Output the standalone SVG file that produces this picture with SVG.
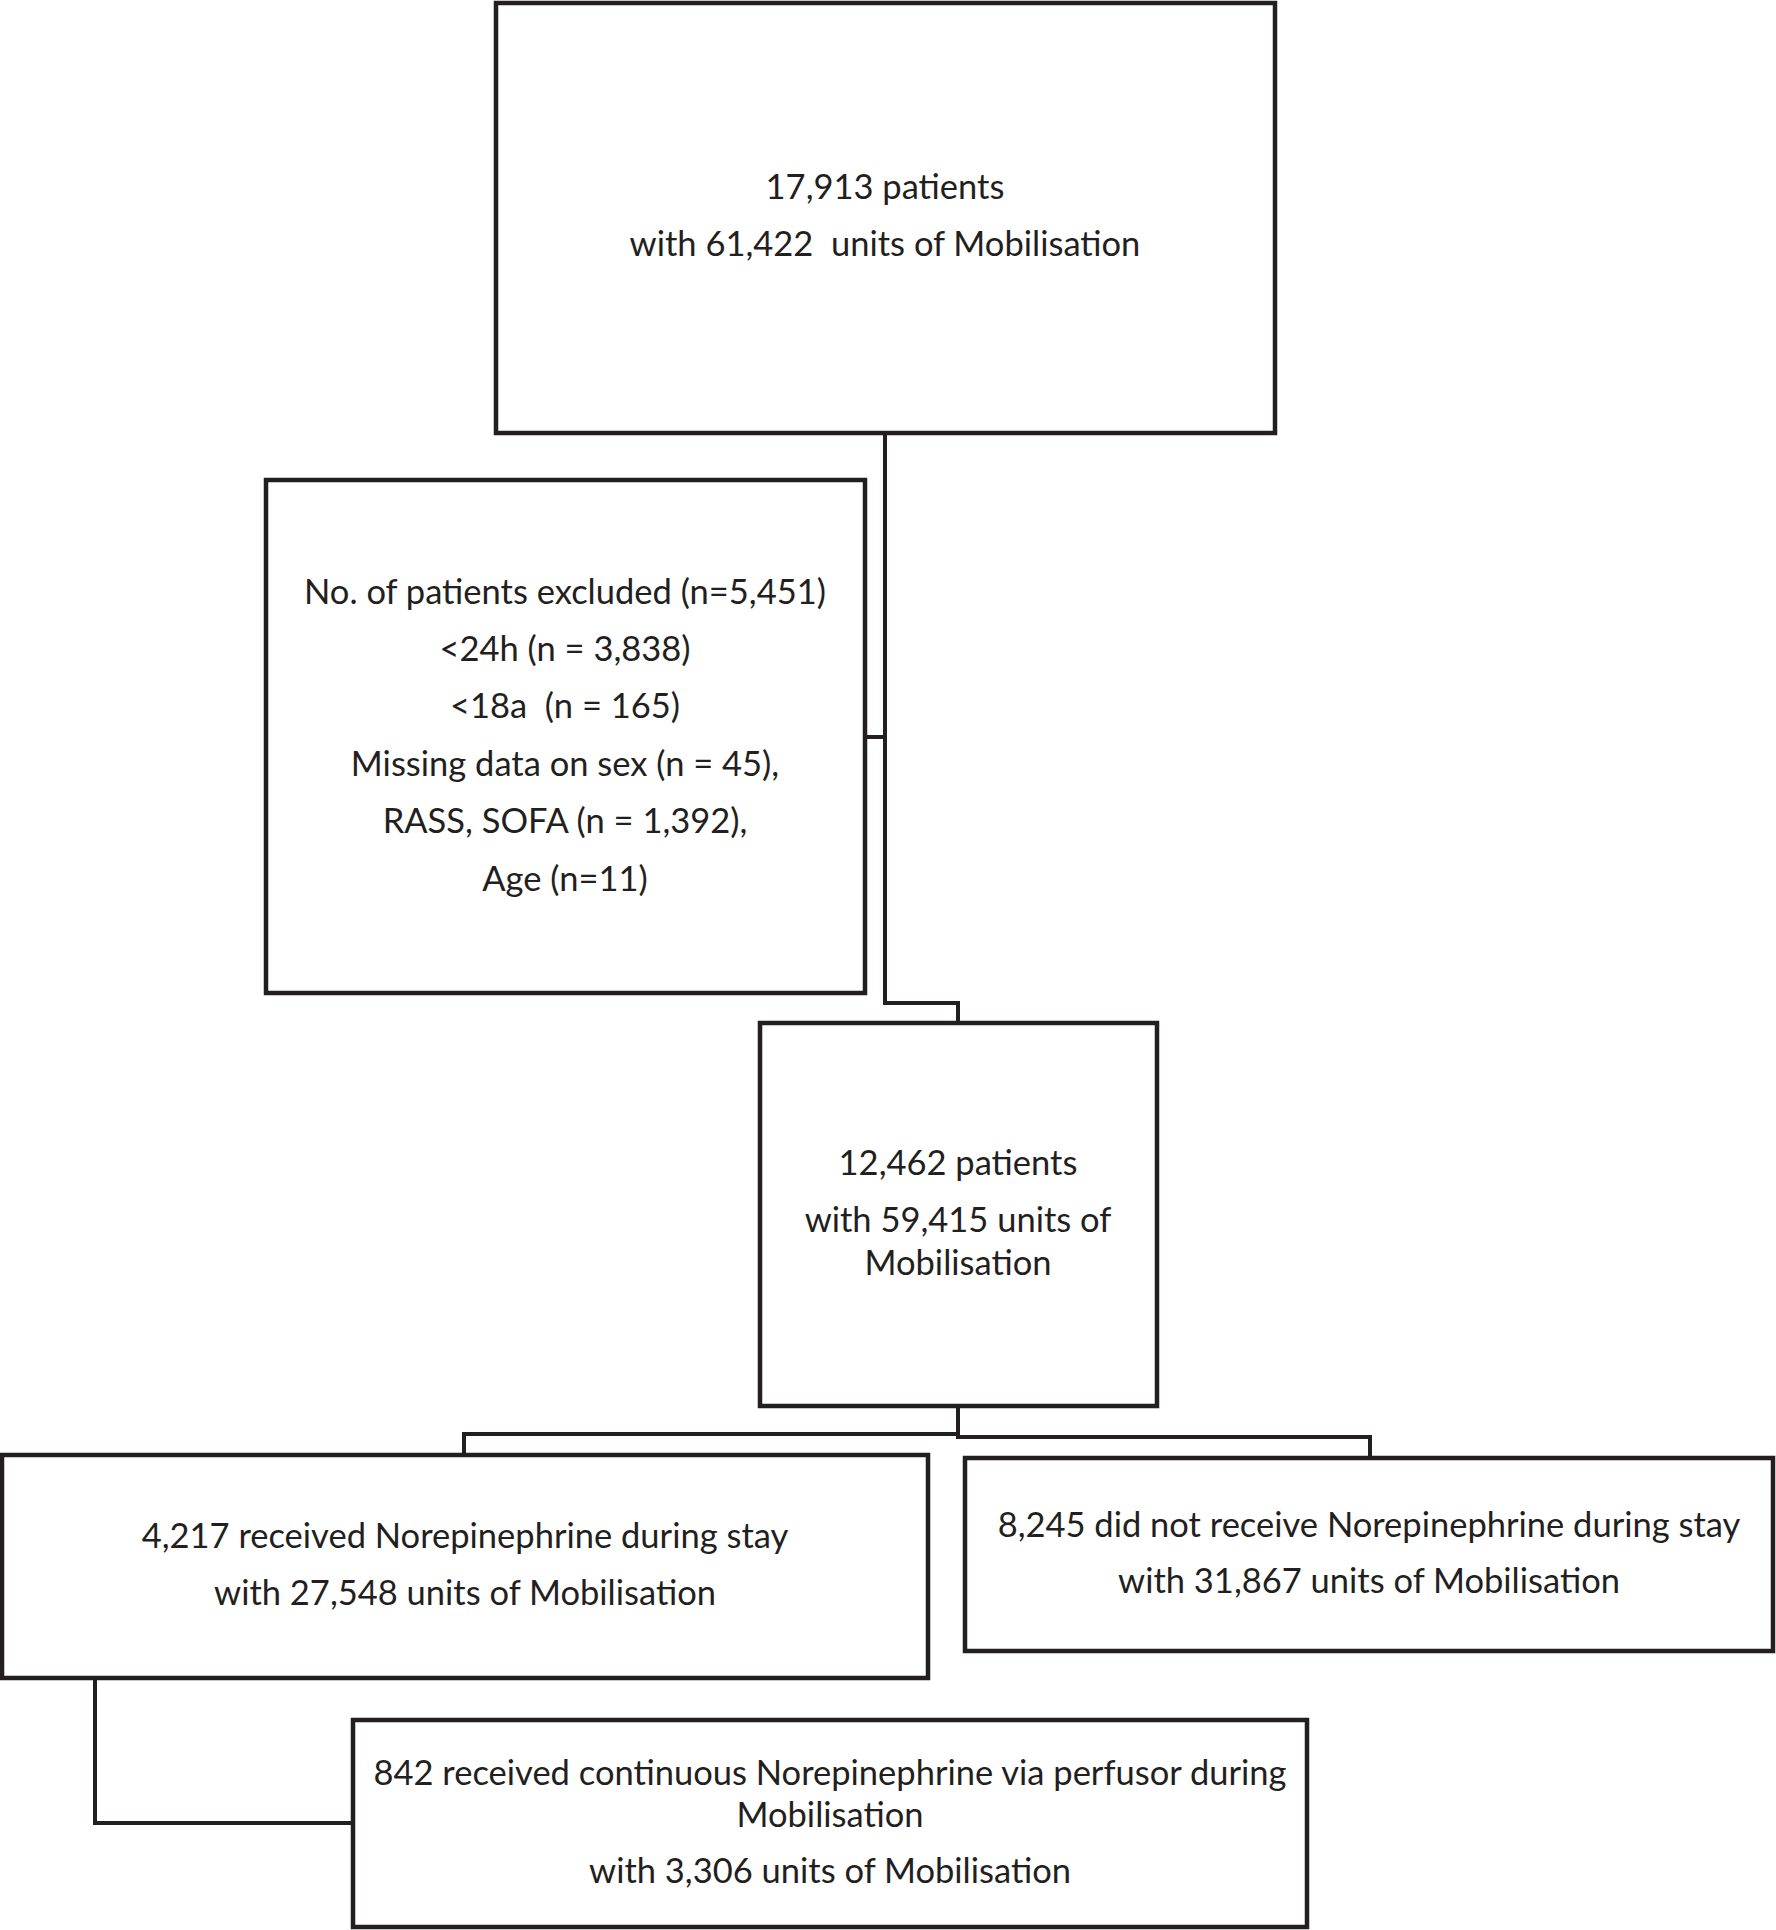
<svg xmlns="http://www.w3.org/2000/svg" width="1776" height="1930" viewBox="0 0 1776 1930">
<style>
.box{fill:#fff;stroke:#231f20;stroke-width:4.5}
.con{fill:none;stroke:#231f20;stroke-width:4}
text{font-family:Lato,"Liberation Sans",sans-serif;font-size:34.5px;fill:#231f20;text-anchor:middle}
</style>
<rect width="1776" height="1930" fill="#fff"/>
<g id="connectors">
<polyline class="con" points="885,433 885,1003 958,1003 958,1023"/>
<line class="con" x1="865" y1="737" x2="885" y2="737"/>
<polyline class="con" points="958,1407 958,1434 464,1434 464,1455"/>
<polyline class="con" points="958,1434 958,1437 1370,1437 1370,1458"/>
<polyline class="con" points="95,1679 95,1823 353,1823"/>
</g>
<g id="node-total">
<rect class="box" x="496" y="3" width="779" height="430"/>
<text x="885" y="199">17,913 patients</text>
<text x="885" y="256" xml:space="preserve">with 61,422  units of Mobilisation</text>
</g>
<g id="node-excluded">
<rect class="box" x="266" y="480" width="599" height="513"/>
<text x="565" y="604">No. of patients excluded (n=5,451)</text>
<text x="565" y="661">&lt;24h (n = 3,838)</text>
<text x="565" y="718" xml:space="preserve">&lt;18a  (n = 165)</text>
<text x="565" y="776">Missing data on sex (n = 45),</text>
<text x="565" y="833">RASS, SOFA (n = 1,392),</text>
<text x="565" y="891">Age (n=11)</text>
</g>
<g id="node-included">
<rect class="box" x="760" y="1023" width="397" height="383"/>
<text x="958" y="1175">12,462 patients</text>
<text x="958" y="1232">with 59,415 units of</text>
<text x="958" y="1275">Mobilisation</text>
</g>
<g id="node-norepi">
<rect class="box" x="2" y="1455" width="926" height="223"/>
<text x="465" y="1548">4,217 received Norepinephrine during stay</text>
<text x="465" y="1605">with 27,548 units of Mobilisation</text>
</g>
<g id="node-no-norepi">
<rect class="box" x="965" y="1458" width="808" height="193"/>
<text x="1369" y="1537">8,245 did not receive Norepinephrine during stay</text>
<text x="1369" y="1593">with 31,867 units of Mobilisation</text>
</g>
<g id="node-continuous">
<rect class="box" x="353" y="1720" width="954" height="207"/>
<text x="830" y="1785">842 received continuous Norepinephrine via perfusor during</text>
<text x="830" y="1827">Mobilisation</text>
<text x="830" y="1883">with 3,306 units of Mobilisation</text>
</g>
</svg>
